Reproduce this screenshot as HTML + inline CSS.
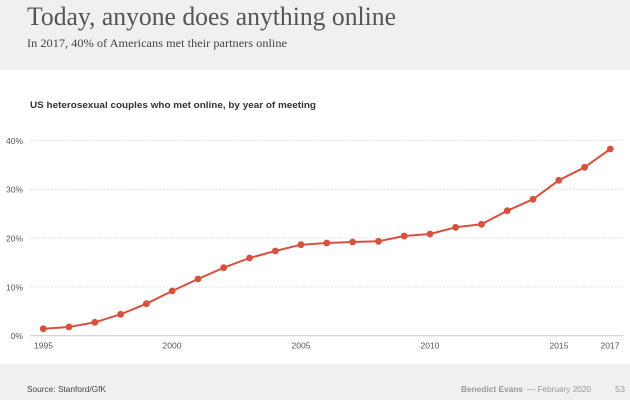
<!DOCTYPE html>
<html><head><meta charset="utf-8"><style>
html,body{margin:0;padding:0;width:630px;height:400px;overflow:hidden;background:#fff}
svg{display:block}
</style></head><body>
<svg width="630" height="400" viewBox="0 0 630 400" xmlns="http://www.w3.org/2000/svg">
<rect x="0" y="0" width="630" height="70" fill="#f0f0f0"/>
<rect x="0" y="364" width="630" height="36" fill="#f0f0f0"/>
<text x="27" y="25" font-family="Liberation Serif, serif" font-size="26.5" fill="#555" textLength="369" lengthAdjust="spacingAndGlyphs">Today, anyone does anything online</text>
<text x="27" y="47" font-family="Liberation Serif, serif" font-size="11.5" fill="#444" textLength="260" lengthAdjust="spacingAndGlyphs">In 2017, 40% of Americans met their partners online</text>
<text x="30" y="108" font-family="Liberation Sans, sans-serif" font-size="9" font-weight="bold" fill="#333" textLength="286" lengthAdjust="spacingAndGlyphs">US heterosexual couples who met online, by year of meeting</text>
<g stroke="#d8d8d8" stroke-width="0.8" stroke-dasharray="2,1.5">
<line x1="30" y1="140.7" x2="623" y2="140.7"/>
<line x1="30" y1="189.3" x2="623" y2="189.3"/>
<line x1="30" y1="238" x2="623" y2="238"/>
<line x1="30" y1="287" x2="623" y2="287"/>
</g>
<line x1="30" y1="335.8" x2="623" y2="335.8" stroke="#c8c8c8" stroke-width="1"/>
<g font-family="Liberation Sans, sans-serif" font-size="8.5" fill="#555" text-anchor="end">
<text x="23" y="144">40%</text>
<text x="23" y="192.5">30%</text>
<text x="23" y="241.3">20%</text>
<text x="23" y="290.3">10%</text>
<text x="23" y="339">0%</text>
</g>
<g font-family="Liberation Sans, sans-serif" font-size="8.5" fill="#555" text-anchor="middle">
<text x="43.5" y="348.5">1995</text>
<text x="172" y="348.5">2000</text>
<text x="301" y="348.5">2005</text>
<text x="430" y="348.5">2010</text>
<text x="559" y="348.5">2015</text>
<text x="610" y="348.5">2017</text>
</g>
<polyline fill="none" stroke="#d8503f" stroke-width="2" stroke-linejoin="round" points="43.3,328.7 69,327 94.8,322.3 120.6,314.3 146.4,303.7 172.2,291 198,279 223.7,267.7 249.5,258 275.3,251 301,244.7 326.8,243 352.6,242 378.4,241.3 404.2,236 430,234 455.7,227.3 481.5,224.3 507.3,210.7 533,199.3 558.8,180.3 584.6,167.3 610.3,149"/>
<g fill="#d8503f">
<circle cx="43.3" cy="328.7" r="3.4"/><circle cx="69" cy="327" r="3.4"/><circle cx="94.8" cy="322.3" r="3.4"/><circle cx="120.6" cy="314.3" r="3.4"/><circle cx="146.4" cy="303.7" r="3.4"/><circle cx="172.2" cy="291" r="3.4"/><circle cx="198" cy="279" r="3.4"/><circle cx="223.7" cy="267.7" r="3.4"/><circle cx="249.5" cy="258" r="3.4"/><circle cx="275.3" cy="251" r="3.4"/><circle cx="301" cy="244.7" r="3.4"/><circle cx="326.8" cy="243" r="3.4"/><circle cx="352.6" cy="242" r="3.4"/><circle cx="378.4" cy="241.3" r="3.4"/><circle cx="404.2" cy="236" r="3.4"/><circle cx="430" cy="234" r="3.4"/><circle cx="455.7" cy="227.3" r="3.4"/><circle cx="481.5" cy="224.3" r="3.4"/><circle cx="507.3" cy="210.7" r="3.4"/><circle cx="533" cy="199.3" r="3.4"/><circle cx="558.8" cy="180.3" r="3.4"/><circle cx="584.6" cy="167.3" r="3.4"/><circle cx="610.3" cy="149" r="3.4"/>
</g>
<text x="27" y="392" font-family="Liberation Sans, sans-serif" font-size="8" fill="#444" textLength="79" lengthAdjust="spacingAndGlyphs">Source: Stanford/GfK</text>
<text x="461" y="392" font-family="Liberation Sans, sans-serif" font-size="8" font-weight="bold" fill="#999" textLength="62" lengthAdjust="spacingAndGlyphs">Benedict Evans</text>
<text x="527" y="392" font-family="Liberation Sans, sans-serif" font-size="8" fill="#999" textLength="64" lengthAdjust="spacingAndGlyphs">— February 2020</text>
<text x="615" y="392" font-family="Liberation Sans, sans-serif" font-size="8" fill="#999" textLength="10" lengthAdjust="spacingAndGlyphs">53</text>
</svg>
</body></html>
